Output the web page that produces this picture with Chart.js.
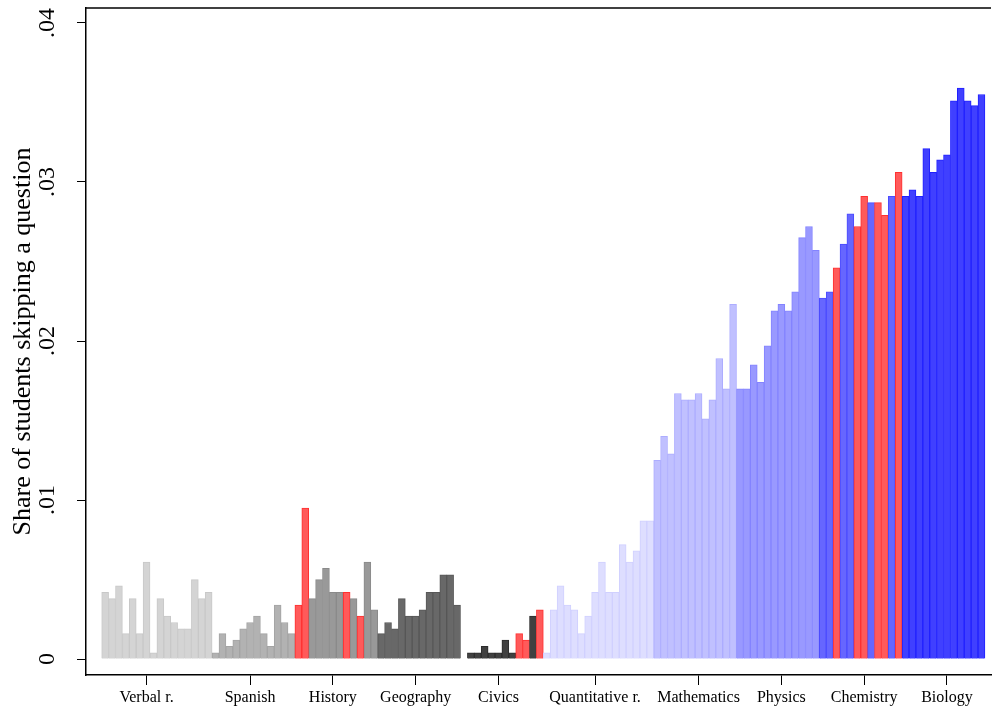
<!DOCTYPE html>
<html>
<head>
<meta charset="utf-8">
<title>Share of students skipping a question</title>
<script src="https://cdn.jsdelivr.net/npm/chart.js@4.4.0/dist/chart.umd.min.js"></script>
<style>
    html, body { margin: 0; padding: 0; background: #fff; }
</style>
</head>
<body>
<canvas id="skipChart" width="993" height="708"></canvas>
<script>

// Subjects, in the order the bars are drawn
var subjects = ['Verbal r.', 'Spanish', 'History', 'Geography', 'Civics', 'Quantitative r.', 'Mathematics', 'Physics', 'Chemistry', 'Biology'];

// Share of students skipping each question
var skipVerbal = [0.0042, 0.0038, 0.0046, 0.0016, 0.0038, 0.0016, 0.0061, 0.0004, 0.0038, 0.0027, 0.0023, 0.0019, 0.0019, 0.0050, 0.0038, 0.0042];
var skipSpanish = [0.0004, 0.0016, 0.0008, 0.0012, 0.0019, 0.0023, 0.0027, 0.0016, 0.0008, 0.0034, 0.0023, 0.0016];
var skipHistory = [0.0034, 0.0095, 0.0038, 0.0050, 0.0057, 0.0042, 0.0042, 0.0042, 0.0038, 0.0027, 0.0061, 0.0031];
var skipGeography = [0.0016, 0.0023, 0.0019, 0.0038, 0.0027, 0.0027, 0.0031, 0.0042, 0.0042, 0.0053, 0.0053, 0.0034];
var skipCivics = [null, 0.0004, 0.0004, 0.0008, 0.0004, 0.0004, 0.0012, 0.0004, 0.0016, 0.0012, 0.0027, 0.0031];
var skipQuantitative = [0.0004, 0.0031, 0.0046, 0.0034, 0.0031, 0.0016, 0.0027, 0.0042, 0.0061, 0.0042, 0.0042, 0.0072, 0.0061, 0.0068, 0.0087, 0.0087];
var skipMathematics = [0.0125, 0.0140, 0.0129, 0.0167, 0.0163, 0.0163, 0.0167, 0.0151, 0.0163, 0.0189, 0.0170, 0.0223];
var skipPhysics = [0.0170, 0.0170, 0.0185, 0.0174, 0.0197, 0.0219, 0.0223, 0.0219, 0.0231, 0.0265, 0.0272, 0.0257];
var skipChemistry = [0.0227, 0.0231, 0.0246, 0.0261, 0.0280, 0.0272, 0.0291, 0.0287, 0.0287, 0.0279, 0.0291, 0.0306];
var skipBiology = [0.0291, 0.0295, 0.0291, 0.0321, 0.0306, 0.0314, 0.0317, 0.0351, 0.0359, 0.0351, 0.0348, 0.0355];

// questions drawn in red (position inside the subject)
var redHistory = [0, 1, 7, 9];
var redCivics = [8, 9, 11];
var redChemistry = [2, 5, 6, 8, 9, 11];

// where the subject labels sit on the bar index axis
var tickPositions = [6, 21, 33, 45, 57, 71, 86, 98, 110, 122];
var yTicks = [0, 0.01, 0.02, 0.03, 0.04];

var subjectFills = ['#d4d4d4', '#b2b2b2', '#999999', '#686868', '#404040', '#dedeff', '#c0c0ff', '#9999ff', '#6666ff', '#4040ff'];
var subjectBorders = ['#c8c8c8', '#a4a4a4', '#8a8a8a', '#575757', '#2c2c2c', '#d0d0ff', '#adadff', '#8383ff', '#4b4bff', '#2020ff'];
var redFill = '#ff5a5a';
var redBorder = '#ff3030';

var series = [skipVerbal, skipSpanish, skipHistory, skipGeography, skipCivics, skipQuantitative, skipMathematics, skipPhysics, skipChemistry, skipBiology];
var reds = [[], [], redHistory, [], redCivics, [], [], [], redChemistry, []];

var points = [];
var fills = [];
var borders = [];
var pos = 0;
series.forEach(function (values, s) {
    values.forEach(function (v, i) {
        var isRed = reds[s].indexOf(i) >= 0;
        points.push({ x: pos, y: v });
        fills.push(isRed ? redFill : subjectFills[s]);
        borders.push(isRed ? redBorder : subjectBorders[s]);
        pos++;
    });
});

// top line of the plot region
var frameTop = {
    id: 'frameTop',
    afterDraw: function (chart) {
        var a = chart.chartArea;
        var c = chart.ctx;
        c.save();
        c.strokeStyle = '#000';
        c.lineWidth = 1.5;
        c.beginPath();
        c.moveTo(a.left, a.top);
        c.lineTo(a.right, a.top);
        c.stroke();
        c.restore();
    }
};

var ctx = document.getElementById('skipChart').getContext('2d');
var skipChart = new Chart(ctx, {
    type: 'bar',
    data: {
        datasets: [{
            data: points,
            backgroundColor: fills,
            borderColor: borders,
            borderWidth: 1,
            barPercentage: 1,
            categoryPercentage: 1
        }]
    },
    options: {
        responsive: false,
        animation: false,
        devicePixelRatio: 1,
        layout: { padding: { top: 8, right: 2, bottom: 0, left: 0 } },
        plugins: {
            legend: { display: false },
            tooltip: { enabled: false }
        },
        scales: {
            x: {
                type: 'linear',
                offset: false,
                min: -2.775,
                max: 128.38,
                afterBuildTicks: function (scale) {
                    scale.ticks = tickPositions.map(function (v) { return { value: v }; });
                },
                afterFit: function (scale) {
                    scale.height = 33;
                    scale.paddingLeft = 0;
                    scale.paddingRight = 0;
                },
                ticks: {
                    autoSkip: false,
                    minRotation: 0,
                    maxRotation: 0,
                    padding: 3,
                    color: '#000',
                    font: { family: 'Liberation Serif', size: 16 },
                    callback: function (value) {
                        return subjects[tickPositions.indexOf(value)];
                    }
                },
                grid: { offset: false, drawOnChartArea: false, tickLength: 10, color: '#000', lineWidth: 1 },
                border: { color: '#000', width: 1.5 }
            },
            y: {
                min: -0.001,
                max: 0.04094,
                afterBuildTicks: function (scale) {
                    scale.ticks = yTicks.map(function (v) { return { value: v }; });
                },
                afterFit: function (scale) {
                    scale.width = 86;
                    scale.paddingTop = 0;
                    scale.paddingBottom = 0;
                },
                ticks: {
                    minRotation: 90,
                    maxRotation: 90,
                    crossAlign: 'center',
                    padding: 14,
                    color: '#000',
                    font: { family: 'Liberation Serif', size: 24 },
                    callback: function (value) {
                        return value === 0 ? '0' : String(value).replace(/^0/, '');
                    }
                },
                grid: { drawOnChartArea: false, tickLength: 9, color: '#000', lineWidth: 1 },
                border: { color: '#000', width: 1.5 },
                title: {
                    display: true,
                    text: 'Share of students skipping a question',
                    color: '#000',
                    font: { family: 'Liberation Serif', size: 26 },
                    padding: { top: 8, bottom: 0 }
                }
            }
        }
    },
    plugins: [frameTop]
});

</script>
</body>
</html>
